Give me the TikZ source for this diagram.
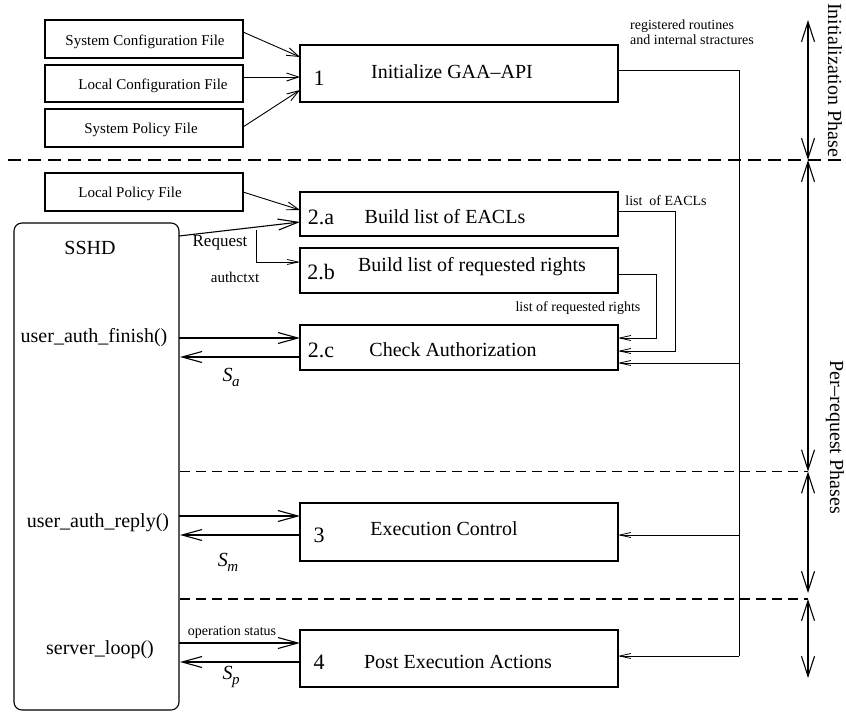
\documentclass[tikz,border=0pt]{standalone}
\usepackage{fontspec}
\setmainfont{Liberation Serif}
\usetikzlibrary{arrows.meta}
\newcommand{\statlab}[2][-0.5pt]{\textit{S}\kern#1\raisebox{-5pt}{\fontsize{15}{15}\selectfont\textit{#2}}}
\begin{document}
\begin{tikzpicture}[x=1pt,y=-1pt,
  box/.style={draw, line width=1.1pt, minimum width=318pt, inner sep=0pt},
  filebox/.style={draw, line width=1.1pt, minimum width=198pt, minimum height=38pt, inner sep=0pt},
  num/.style={font=\fontsize{22}{26}\selectfont, inner sep=0pt},
  lab/.style={font=\fontsize{20}{24}\selectfont, inner sep=0pt},
  small/.style={font=\fontsize{14}{17}\selectfont, inner sep=0pt},
  filelab/.style={font=\fontsize{15}{18}\selectfont, inner sep=0pt},
  conn/.style={line width=0.8pt},
  bigarr/.style={line width=1.1pt, -{Straight Barb[length=20pt,width=11pt,line width=1.1pt]}},
  midarr/.style={line width=0.9pt, -{Straight Barb[length=12pt,width=8pt,line width=0.9pt]}},
  tinyarr/.style={conn, -{Straight Barb[length=11pt,width=5pt,line width=0.8pt]}},
  phasearr/.style={line width=1.1pt, {Straight Barb[length=20pt,width=13pt,line width=1.1pt]}-{Straight Barb[length=20pt,width=13pt,line width=1.1pt]}},
  thickdash/.style={line width=2.6pt, dash pattern=on 13pt off 7pt},
  thindash/.style={line width=1.1pt, dash pattern=on 10pt off 6pt}
]
\useasboundingbox (0,0) rectangle (846,713);

% phase separators
\coordinate (td1) at (8,160);
\coordinate (td2) at (846,160);
\draw[thickdash] (td1) -- (td2);
\coordinate (dA1) at (180,471.5);
\coordinate (dA2) at (808,471.5);
\draw[thindash] (dA1) -- (dA2);
\coordinate (dB1) at (180,599);
\coordinate (dB2) at (808,599);
\draw[thindash] (dB1) -- (dB2);

% file boxes
\node[filebox] (sysconf) at (144,39) {};
\node[filelab] (sysconfl) at (145,42) {System Configuration File};
\node[filebox, minimum height=37pt] (locconf) at (144,83.5) {};
\node[filelab] (locconfl) at (153,86) {Local Configuration File};
\node[filebox] (syspol) at (144,128) {};
\node[filelab] (syspoll) at (141,130) {System Policy File};
\node[filebox] (locpol) at (144,192) {};
\node[filelab] (locpoll) at (130,194) {Local Policy File};

% process boxes
\node[box, minimum height=57pt] (b1) at (459,73.5) {};
\node[num] (n1) at (319,78) {1};
\node[lab] (l1) at (452,72) {Initialize GAA{\textendash}API};

\node[box, minimum height=44pt] (b2a) at (459,214) {};
\node[num] (n2a) at (321,217) {2.a};
\node[lab] (l2a) at (445,217) {Build list of EACLs};

\node[box, minimum height=45pt] (b2b) at (459,270.5) {};
\node[num] (n2b) at (321,272) {2.b};
\node[lab] (l2b) at (472,267) {Build list of requested rights};

\node[box, minimum height=45pt] (b2c) at (459,347.5) {};
\node[num] (n2c) at (321,350) {2.c};
\node[lab] (l2c) at (453,350) {Check Authorization};

\node[box, minimum height=58pt] (b3) at (459,532) {};
\node[num] (n3) at (319,535) {3};
\node[lab] (l3) at (444,529) {Execution Control};

\node[box, minimum height=57pt] (b4) at (459,658.5) {};
\node[num] (n4) at (319,662) {4};
\node[lab] (l4) at (458,662) {Post Execution Actions};

% SSHD
\node[draw, line width=1.1pt, rounded corners=8pt, minimum width=165pt, minimum height=487pt, inner sep=0pt] (sshd) at (96.5,466.5) {};
\node[lab] (sshdl) at (90,248) {SSHD};
\node[lab] (uaf) at (94,338) {user\_auth\_finish()};
\node[lab] (uar) at (98,523) {user\_auth\_reply()};
\node[lab] (sl) at (100,650) {server\_loop()};

% file -> box arrows
\coordinate (sc) at (243,32);
\coordinate (sct) at (300,57);
\draw[midarr] (sc) -- (sct);
\coordinate (lc) at (243,77);
\coordinate (lct) at (300,77);
\draw[midarr] (lc) -- (lct);
\coordinate (sp) at (243,127);
\coordinate (spt) at (300,90);
\draw[midarr] (sp) -- (spt);
\coordinate (lp) at (243,192);
\coordinate (lpt) at (300,210);
\draw[midarr] (lp) -- (lpt);

% request
\coordinate (rq) at (179,236);
\coordinate (rqt) at (300,222);
\draw[bigarr] (rq) -- (rqt);
\node[font=\fontsize{17}{20}\selectfont, inner sep=0pt] (reql) at (220,243) {Request};
\coordinate (br) at (256,230);
\coordinate (brc) at (256,262);
\coordinate (brt) at (300,262);
\draw[tinyarr] (br) -- (brc) -- (brt);
\node[filelab] (authl) at (235,277) {authctxt};

% SSHD <-> boxes
\coordinate (f1) at (179,338); \coordinate (f1t) at (300,338);
\coordinate (f2) at (300,357); \coordinate (f2t) at (180,357);
\draw[bigarr] (f1) -- (f1t);
\draw[bigarr] (f2) -- (f2t);
\node[lab] (sa) at (231,377) {\statlab{a}};

\coordinate (r1) at (179,516); \coordinate (r1t) at (300,516);
\coordinate (r2) at (300,535); \coordinate (r2t) at (180,535);
\draw[bigarr] (r1) -- (r1t);
\draw[bigarr] (r2) -- (r2t);
\node[lab] (sm) at (228,562) {\statlab{m}};

\coordinate (s1) at (179,643); \coordinate (s1t) at (300,643);
\coordinate (s2) at (300,662); \coordinate (s2t) at (180,662);
\draw[bigarr] (s1) -- (s1t);
\draw[bigarr] (s2) -- (s2t);
\node[small] (ops) at (232,632) {operation status};
\node[lab] (spl) at (231,677) {\statlab[-0.5pt]{p}};

% right side connectors
\coordinate (g0) at (618,70);
\coordinate (g1) at (739,70);
\coordinate (g2) at (739,656);
\draw[conn] (g0) -- (g1) -- (g2);
\coordinate (gc) at (739,363); \coordinate (gct) at (618,363);
\draw[tinyarr] (gc) -- (gct);
\coordinate (g3) at (739,535); \coordinate (g3t) at (618,535);
\draw[tinyarr] (g3) -- (g3t);
\coordinate (g4t) at (618,656);
\draw[tinyarr] (g2) -- (g4t);
\node[small, align=left, anchor=north west, font=\fontsize{14}{15}\selectfont] (regl) at (630,20) {registered routines\\and internal stractures};

\coordinate (e0) at (618,211);
\coordinate (e1) at (675,211);
\coordinate (e2) at (675,351);
\coordinate (e3) at (618,351);
\draw[tinyarr] (e0) -- (e1) -- (e2) -- (e3);
\node[small] (eacl) at (666,201) {list\enspace of EACLs};

\coordinate (q0) at (618,274);
\coordinate (q1) at (656,274);
\coordinate (q2) at (656,338);
\coordinate (q3) at (618,338);
\draw[tinyarr] (q0) -- (q1) -- (q2) -- (q3);
\node[small] (rrl) at (578,308) {list of requested rights};

% phase arrows
\coordinate (pa0) at (808,20); \coordinate (pa1) at (808,160);
\draw[phasearr] (pa0) -- (pa1);
\coordinate (pb0) at (808,160); \coordinate (pb1) at (808,471.5);
\draw[phasearr] (pb0) -- (pb1);
\coordinate (pc0) at (808,471.5); \coordinate (pc1) at (808,593);
\draw[phasearr] (pc0) -- (pc1);
\coordinate (pd0) at (808,599); \coordinate (pd1) at (808,678);
\draw[phasearr] (pd0) -- (pd1);
\node[lab, rotate=-90] (initl) at (835,80) {Initialization Phase};
\node[lab, rotate=-90] (perl) at (835,437) {Per{\textendash}request Phases};
\end{tikzpicture}
\end{document}
